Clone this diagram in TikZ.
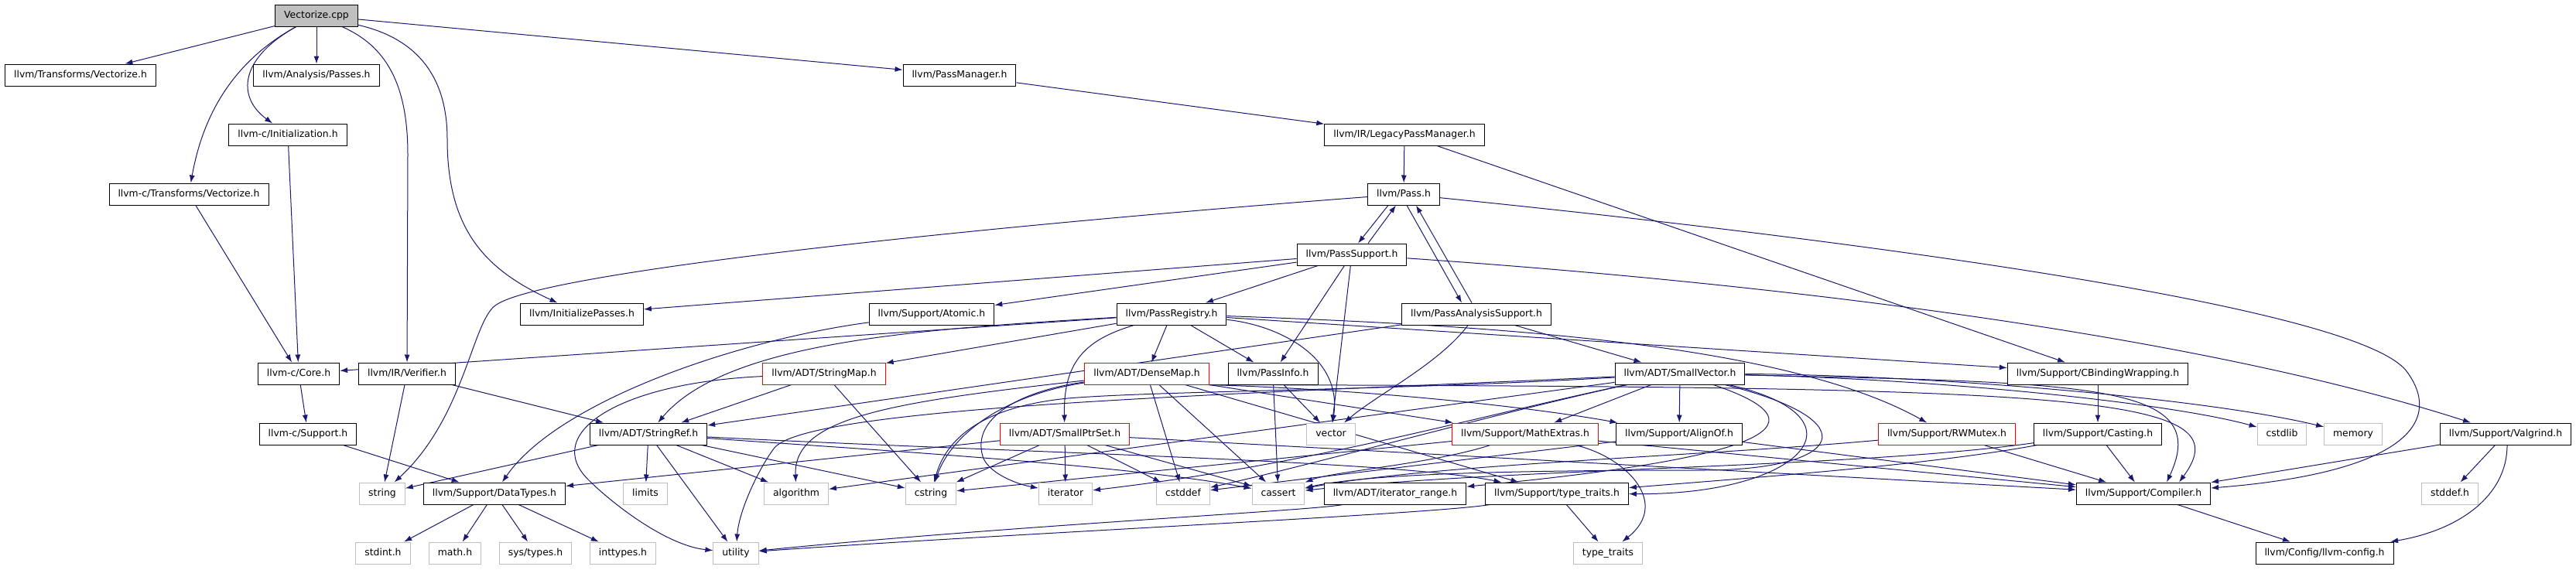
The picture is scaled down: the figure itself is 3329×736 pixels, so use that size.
\documentclass[tikz,border=0pt]{standalone}
\usepackage{fontspec}
\setmainfont{DejaVu Sans}
\usepackage{tikz}
\usetikzlibrary{arrows.meta,backgrounds}
\definecolor{edgeblue}{RGB}{25,25,112}
\definecolor{sysgray}{RGB}{191,191,191}
\definecolor{rootgray}{RGB}{191,191,191}
\definecolor{truncred}{RGB}{255,0,0}

\begin{document}
\begin{tikzpicture}[x={(1pt,0pt)},y={(0pt,-1pt)}]
  \tikzstyle{file}=[rectangle,draw=black,line width=1pt,fill=white,minimum height=28pt,inner xsep=11.5pt,inner ysep=0pt,text height=9pt,text depth=2.6pt,font=\fontsize{12.4}{14}\selectfont]
  \tikzstyle{trunc}=[file,draw=truncred]
  \tikzstyle{sys}=[file,draw=sysgray]
  \tikzstyle{root}=[file,fill=rootgray]
  \tikzstyle{dep}=[-{Latex[length=10pt,width=7pt]},draw=edgeblue,line width=1pt]

  \useasboundingbox (0,0) rectangle (3329,736);

  \node[root] (cpp) at (409,20) {Vectorize.cpp};
  \node[file] (vecH) at (104,97) {llvm/Transforms/Vectorize.h};
  \node[file] (anaPasses) at (409,97) {llvm/Analysis/Passes.h};
  \node[file] (passMgr) at (1240,97) {llvm/PassManager.h};
  \node[file] (cInit) at (372,174) {llvm-c/Initialization.h};
  \node[file] (legacyPM) at (1815,174) {llvm/IR/LegacyPassManager.h};
  \node[file] (cVec) at (244,251) {llvm-c/Transforms/Vectorize.h};
  \node[file] (pass) at (1814,251) {llvm/Pass.h};
  \node[file] (passSupport) at (1747,329) {llvm/PassSupport.h};
  \node[file] (initPasses) at (752,406) {llvm/InitializePasses.h};
  \node[file] (atomic) at (1204,406) {llvm/Support/Atomic.h};
  \node[file] (passRegistry) at (1514,406) {llvm/PassRegistry.h};
  \node[file] (passAnalysis) at (1908,406) {llvm/PassAnalysisSupport.h};
  \node[file] (cCore) at (386,483) {llvm-c/Core.h};
  \node[file] (verifier) at (526,483) {llvm/IR/Verifier.h};
  \node[trunc] (stringMap) at (1065,483) {llvm/ADT/StringMap.h};
  \node[trunc] (denseMap) at (1482,483) {llvm/ADT/DenseMap.h};
  \node[file] (passInfo) at (1645,483) {llvm/PassInfo.h};
  \node[file] (smallVector) at (2171,483) {llvm/ADT/SmallVector.h};
  \node[file] (cbinding) at (2711,483) {llvm/Support/CBindingWrapping.h};
  \node[file] (cSupport) at (398,561) {llvm-c/Support.h};
  \node[file] (stringRef) at (838,561) {llvm/ADT/StringRef.h};
  \node[trunc] (smallPtrSet) at (1376,561) {llvm/ADT/SmallPtrSet.h};
  \node[sys] (vector) at (1720,561) {vector};
  \node[trunc] (mathExtras) at (1971,561) {llvm/Support/MathExtras.h};
  \node[file] (alignOf) at (2170,561) {llvm/Support/AlignOf.h};
  \node[trunc] (rwMutex) at (2516,561) {llvm/Support/RWMutex.h};
  \node[file] (casting) at (2711,561) {llvm/Support/Casting.h};
  \node[sys] (cstdlib) at (2949,561) {cstdlib};
  \node[sys] (memory) at (3041,561) {memory};
  \node[file] (valgrind) at (3238,561) {llvm/Support/Valgrind.h};
  \node[sys] (string) at (494,638) {string};
  \node[file] (dataTypes) at (639,638) {llvm/Support/DataTypes.h};
  \node[sys] (limits) at (834,638) {limits};
  \node[sys] (algorithm) at (1029,638) {algorithm};
  \node[sys] (cstring) at (1203,638) {cstring};
  \node[sys] (iterator) at (1377,638) {iterator};
  \node[sys] (cstddef) at (1529,638) {cstddef};
  \node[sys] (cassert) at (1652,638) {cassert};
  \node[file] (iterRange) at (1803,638) {llvm/ADT/iterator\_range.h};
  \node[file] (typeTraitsH) at (2012,638) {llvm/Support/type\_traits.h};
  \node[file] (compiler) at (2770,638) {llvm/Support/Compiler.h};
  \node[sys] (stddef) at (3166,638) {stddef.h};
  \node[sys] (stdint) at (495,715) {stdint.h};
  \node[sys] (mathH) at (588,715) {math.h};
  \node[sys] (sysTypes) at (692,715) {sys/types.h};
  \node[sys] (inttypes) at (805,715) {inttypes.h};
  \node[sys] (utility) at (951,715) {utility};
  \node[sys] (typeTraits) at (2078,715) {type\_traits};
  \node[file] (llvmConfig) at (3004,715) {llvm/Config/llvm-config.h};

  \begin{scope}[on background layer]
  \draw[dep] (cpp) -- (vecH);
  \draw[dep] (cpp) -- (anaPasses);
  \draw[dep] (cpp) -- (passMgr);
  \draw[dep] (cpp) .. controls (310,75) and (305,125) .. (cInit);
  \draw[dep] (cpp) .. controls (300,80) and (262,150) .. (cVec);
  \draw[dep] (cpp) .. controls (500,60) and (527,110) .. (527,200) -- (verifier);
  \draw[dep] (cpp) .. controls (540,50) and (578,100) .. (578,180) .. controls (578,300) and (630,350) .. (initPasses);

  \draw[dep] (cInit) -- (cCore);
  \draw[dep] (cVec) -- (cCore);
  \draw[dep] (cCore) -- (cSupport);
  \draw[dep] (cSupport) -- (dataTypes);
  \draw[dep] (verifier) -- (string);
  \draw[dep] (verifier) -- (stringRef);
  \draw[dep] (passMgr) -- (legacyPM);
  \draw[dep] (legacyPM) -- (pass);
  \draw[dep] (legacyPM) -- (cbinding);

  \draw[dep] ([xshift=-20pt]pass.south) -- ([xshift=8pt]passSupport.north);
  \draw[dep] ([xshift=21pt]passSupport.north) -- ([xshift=-10pt]pass.south);
  \draw[dep] ([xshift=4pt]pass.south) -- ([xshift=-19pt]passAnalysis.north);
  \draw[dep] ([xshift=-6pt]passAnalysis.north) -- ([xshift=16pt]pass.south);
  \draw[dep] (pass) .. controls (1300,290) and (700,350) .. (640,395) .. controls (610,417) and (600,540) .. (string);
  \draw[dep] (pass) .. controls (2300,300) and (3042,390) .. (3110,480) .. controls (3155,540) and (3120,610) .. (compiler);

  \draw[dep] (passSupport) -- (initPasses);
  \draw[dep] (passSupport) -- (atomic);
  \draw[dep] (passSupport) -- (passRegistry);
  \draw[dep] (passSupport) -- (passInfo);
  \draw[dep] (passSupport) -- (vector);
  \draw[dep] (passSupport) .. controls (2200,360) and (2800,420) .. (valgrind);

  \draw[dep] (passAnalysis) -- (smallVector);
  \draw[dep] (passAnalysis) -- (stringRef);
  \draw[dep] (passAnalysis) .. controls (1860,470) and (1780,510) .. (vector);

  \draw[dep] (atomic) .. controls (950,440) and (720,520) .. (dataTypes);

  \draw[dep] (passRegistry) -- (cCore);
  \draw[dep] (passRegistry) -- (stringMap);
  \draw[dep] (passRegistry) -- (denseMap);
  \draw[dep] (passRegistry) .. controls (1400,440) and (1374,470) .. (smallPtrSet);
  \draw[dep] (passRegistry) -- (passInfo);
  \draw[dep] (passRegistry) .. controls (1200,425) and (940,440) .. (stringRef);
  \draw[dep] (passRegistry) -- (cbinding);
  \draw[dep] (passRegistry) .. controls (1900,420) and (2300,440) .. (rwMutex);
  \draw[dep] (passRegistry) .. controls (1650,420) and (1735,460) .. (vector);

  \draw[dep] (passInfo) -- (cassert);
  \draw[dep] (passInfo) -- (vector);

  \draw[dep] (stringMap) -- (stringRef);
  \draw[dep] (stringMap) -- (cstring);
  \draw[dep] (stringMap) .. controls (800,495) and (700,560) .. (760,620) .. controls (790,650) and (860,705) .. (utility);

  \draw[dep] (denseMap.south east) -- (mathExtras);
  \draw[dep] (denseMap.south east) .. controls (1800,505) and (2000,530) .. (alignOf);
  \draw[dep] (denseMap.south east) .. controls (2700,500) and (2900,510) .. ([xshift=46pt]compiler.north);
  \draw[dep] (denseMap) -- (typeTraitsH);
  \draw[dep] (denseMap) .. controls (1150,520) and (1025,540) .. (algorithm);
  \draw[dep] (denseMap) -- (cassert);
  \draw[dep] (denseMap) -- (cstddef);
  \draw[dep] (denseMap) .. controls (1300,510) and (1230,560) .. (cstring);
  \draw[dep] (denseMap) .. controls (1320,505) and (1255,540) .. (1270,590) .. controls (1276,610) and (1310,625) .. (iterator);

  \draw[dep] (smallPtrSet) -- (compiler);
  \draw[dep] (smallPtrSet) -- (dataTypes);
  \draw[dep] (smallPtrSet) -- (cassert);
  \draw[dep] (smallPtrSet) -- (cstddef);
  \draw[dep] (smallPtrSet) -- (cstring);
  \draw[dep] (smallPtrSet) -- (iterator);

  \draw[dep] (smallVector) -- (alignOf);
  \draw[dep] (smallVector) -- (mathExtras);
  \draw[dep] (smallVector) .. controls (2700,495) and (2860,495) .. ([xshift=30pt]compiler.north);
  \draw[dep] (smallVector) .. controls (2500,490) and (2800,520) .. (cstdlib);
  \draw[dep] (smallVector) .. controls (2500,485) and (2850,515) .. (memory);
  \draw[dep] (smallVector) .. controls (2420,540) and (2330,640) .. (typeTraitsH);
  \draw[dep] (smallVector) .. controls (2400,560) and (2200,600) .. (iterRange);
  \draw[dep] (smallVector) .. controls (2420,545) and (2380,608) .. (2200,608) .. controls (1900,608) and (1760,615) .. (cassert);
  \draw[dep] (smallVector) -- (algorithm);
  \draw[dep] (smallVector) .. controls (1800,505) and (1500,505) .. (1380,515) .. controls (1280,525) and (1225,560) .. (cstring);
  \draw[dep] (smallVector) .. controls (1900,540) and (1700,600) .. (iterator);
  \draw[dep] (smallVector) .. controls (1950,530) and (1700,600) .. (cstddef);
  \draw[dep] (smallVector) .. controls (1600,510) and (1040,525) .. (1000,580) .. controls (980,607) and (955,660) .. (utility);

  \draw[dep] (mathExtras) -- (compiler);
  \draw[dep] (mathExtras) .. controls (1850,600) and (1720,610) .. (cassert);
  \draw[dep] (mathExtras) -- (cstring);
  \draw[dep] (mathExtras) .. controls (2100,590) and (2160,650) .. (typeTraits);

  \draw[dep] (alignOf) -- (compiler);
  \draw[dep] (alignOf) -- (cstddef);

  \draw[dep] (rwMutex) -- (compiler);
  \draw[dep] (rwMutex) .. controls (2200,590) and (1850,600) .. (cassert);

  \draw[dep] (casting) -- (compiler);
  \draw[dep] (casting) .. controls (2500,600) and (2300,615) .. (typeTraitsH);
  \draw[dep] (casting) .. controls (2400,605) and (1950,605) .. (cassert);

  \draw[dep] (cbinding) -- (casting);
  \draw[dep] ([xshift=2pt]valgrind.south) .. controls (3240,640) and (3180,685) .. (llvmConfig);
  \draw[dep] (valgrind) -- (compiler);
  \draw[dep] (valgrind) -- (stddef);
  \draw[dep] (compiler) -- (llvmConfig);

  \draw[dep] (stringRef) -- (string);
  \draw[dep] (stringRef) -- (limits);
  \draw[dep] (stringRef) -- (utility);
  \draw[dep] (stringRef) -- (algorithm);
  \draw[dep] (stringRef) -- (cstring);
  \draw[dep] (stringRef) .. controls (1100,580) and (1450,600) .. (cassert);
  \draw[dep] (stringRef) .. controls (1300,585) and (1800,595) .. (typeTraitsH);

  \draw[dep] (typeTraitsH) .. controls (1850,665) and (1300,690) .. (utility);
  \draw[dep] (typeTraitsH) -- (typeTraits);
  \draw[dep] (iterRange) .. controls (1700,660) and (1300,680) .. (utility);

  \draw[dep] (dataTypes) -- (stdint);
  \draw[dep] (dataTypes) -- (mathH);
  \draw[dep] (dataTypes) -- (sysTypes);
  \draw[dep] (dataTypes) -- (inttypes);
  \end{scope}
\end{tikzpicture}
\end{document}
